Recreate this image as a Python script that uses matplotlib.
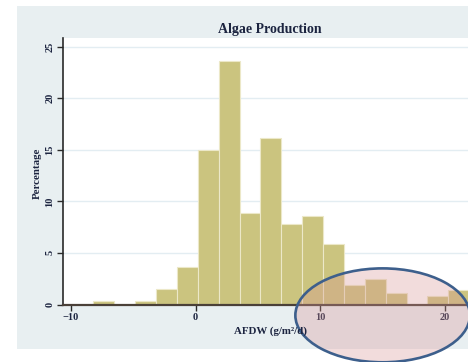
import matplotlib
matplotlib.use("Agg")
import matplotlib.pyplot as plt
from matplotlib.patches import Rectangle, Ellipse
import numpy as np

# Histogram of daily algae production (ash-free dry weight)
bin_start = -8.2
bin_width = 1.675
percentages = [0.35, 0.0, 0.35, 1.5, 3.6, 15.0, 23.6, 8.9, 16.1, 7.85,
               8.55, 5.9, 1.9, 2.5, 1.15, 0.0, 0.8, 1.45]
x_ticks = [-10, 0, 10, 20]
y_ticks = [0, 5, 10, 15, 20, 25]

title = "Algae Production"
x_label = "AFDW (g/m\u00b2/d)"
y_label = "Percentage"

serif = ["Liberation Serif", "DejaVu Serif"]
text_color = "#1c2440"

fig = plt.figure(figsize=(4.68, 3.62), dpi=100)
fig.patch.set_facecolor("white")

# graph region background
fig.add_artist(Rectangle((17 / 468, 1 - 349 / 362), 1 - 17 / 468, (349 - 6) / 362,
                         transform=fig.transFigure, facecolor="#e8eff1",
                         edgecolor="none", zorder=-5))

ax = fig.add_axes([63 / 468, 1 - 304.5 / 362, 1 - 63 / 468, (304.5 - 38.3) / 362])
ax.set_zorder(2)
ax.set_facecolor("white")

edges = bin_start + bin_width * np.arange(len(percentages))
ax.bar(edges, percentages, width=bin_width, align="edge",
       color="#cbc47f", edgecolor="#ece8c8", linewidth=0.8, zorder=3)

ax.set_xlim(-10.64, 21.85)
ax.set_ylim(0, 25.8)
ax.set_xticks(x_ticks)
ax.set_yticks(y_ticks)
ax.grid(axis="y", color="#e3edf2", linewidth=1.0, zorder=1)
ax.grid(axis="x", visible=False)

for s in ["top", "right"]:
    ax.spines[s].set_visible(False)
ax.spines["left"].set_color("#2a2a2a")
ax.spines["left"].set_linewidth(1.2)
ax.spines["bottom"].set_color("#4a4038")
ax.spines["bottom"].set_linewidth(1.6)
ax.spines["bottom"].set_zorder(4)

ax.tick_params(axis="both", direction="out", length=4, width=1.0, color="#2a2a2a",
               labelsize=7.5, labelcolor=text_color, pad=2)
for lab in ax.get_yticklabels():
    lab.set_rotation(90)
    lab.set_va("center")
    lab.set_family(serif)
    lab.set_fontweight("bold")
for lab in ax.get_xticklabels():
    lab.set_family(serif)
    lab.set_fontweight("bold")

fig.text(270 / 468, 1 - 29 / 362, title, ha="center", va="center",
         family=serif, fontweight="bold", fontsize=10, color=text_color)
fig.text(270 / 468, 1 - 331 / 362, x_label, ha="center", va="center",
         family=serif, fontweight="bold", fontsize=7.8, color=text_color)
fig.text(37 / 468, 1 - 173 / 362, y_label, ha="center", va="center", rotation=90,
         family=serif, fontweight="bold", fontsize=7.8, color=text_color)

# highlight of the upper tail
ax.add_patch(Ellipse((15.0, -1.05), 14.0, 9.1, facecolor=(0.85, 0.58, 0.58, 0.32),
                     edgecolor="#3d5f8c", linewidth=1.9, clip_on=False, zorder=10))

fig.savefig("out.png", dpi=100)
